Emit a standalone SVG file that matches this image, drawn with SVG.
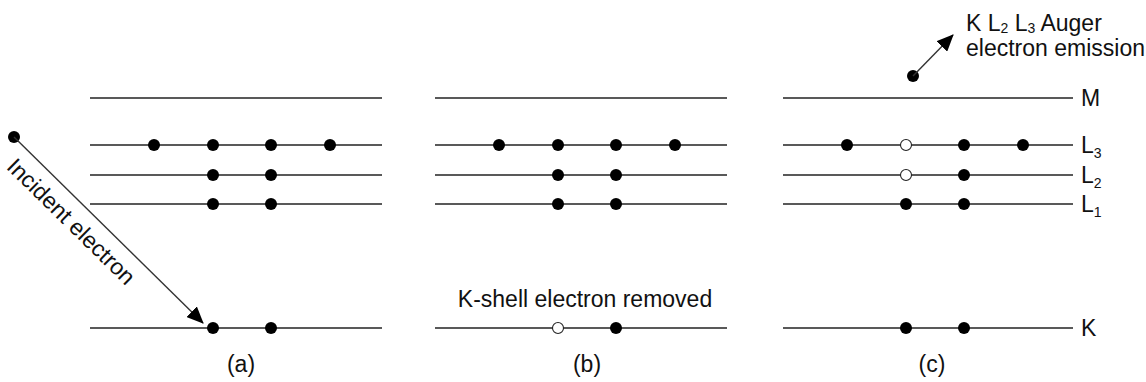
<svg xmlns="http://www.w3.org/2000/svg" width="1146" height="382" viewBox="0 0 1146 382">
  <style>
    .shell { stroke: #222; stroke-width: 1.4; fill: none; }
    .e { fill: #000; }
    .hole { fill: #fff; stroke: #222; stroke-width: 1.1; }
    .lbl { font-family: "Liberation Sans", Arial, sans-serif; font-size: 23px; fill: #111; }
    .sub { font-size: 14px; }
    .arrow { stroke: #333; stroke-width: 1.4; fill: none; }
  </style>
  <defs>
    <marker id="head" markerWidth="17" markerHeight="15" refX="16" refY="7.5" orient="auto" markerUnits="userSpaceOnUse">
      <path d="M0,0 L17,7.5 L0,15 Z" fill="#000"/>
    </marker>
  </defs>
  <rect width="1146" height="382" fill="#fff"/>

  <!-- Panel (a): atom before ionisation -->
  <g id="panel-a">
    <line class="shell" x1="90" y1="98" x2="382" y2="98"/>
    <line class="shell" x1="90" y1="145" x2="382" y2="145"/>
    <line class="shell" x1="90" y1="175" x2="382" y2="175"/>
    <line class="shell" x1="90" y1="204" x2="382" y2="204"/>
    <line class="shell" x1="90" y1="328" x2="382" y2="328"/>
    <circle class="e" cx="154" cy="145" r="6"/>
    <circle class="e" cx="213" cy="145" r="6"/>
    <circle class="e" cx="271" cy="145" r="6"/>
    <circle class="e" cx="330" cy="145" r="6"/>
    <circle class="e" cx="213" cy="175" r="6"/>
    <circle class="e" cx="271" cy="175" r="6"/>
    <circle class="e" cx="213" cy="204" r="6"/>
    <circle class="e" cx="271" cy="204" r="6"/>
    <circle class="e" cx="213" cy="328" r="6"/>
    <circle class="e" cx="271" cy="328" r="6"/>
    <text class="lbl" x="241" y="372" text-anchor="middle">(a)</text>
  </g>

  <!-- Incident electron -->
  <g id="incident">
    <circle class="e" cx="14" cy="137" r="6"/>
    <text class="lbl" transform="translate(14,137) rotate(44.5)" x="100" y="28" text-anchor="middle">Incident electron</text>
  </g>

  <!-- Panel (b): K-shell vacancy -->
  <g id="panel-b">
    <line class="shell" x1="435" y1="98" x2="727" y2="98"/>
    <line class="shell" x1="435" y1="145" x2="727" y2="145"/>
    <line class="shell" x1="435" y1="175" x2="727" y2="175"/>
    <line class="shell" x1="435" y1="204" x2="727" y2="204"/>
    <line class="shell" x1="435" y1="328" x2="727" y2="328"/>
    <circle class="e" cx="499" cy="145" r="6"/>
    <circle class="e" cx="558" cy="145" r="6"/>
    <circle class="e" cx="616" cy="145" r="6"/>
    <circle class="e" cx="675" cy="145" r="6"/>
    <circle class="e" cx="558" cy="175" r="6"/>
    <circle class="e" cx="616" cy="175" r="6"/>
    <circle class="e" cx="558" cy="204" r="6"/>
    <circle class="e" cx="616" cy="204" r="6"/>
    <circle class="hole" cx="558" cy="328" r="5.5"/>
    <circle class="e" cx="616" cy="328" r="6"/>
    <text class="lbl" x="585" y="307" text-anchor="middle">K-shell electron removed</text>
    <text class="lbl" x="587" y="372" text-anchor="middle">(b)</text>
  </g>

  <!-- Panel (c): Auger relaxation -->
  <g id="panel-c">
    <line class="shell" x1="783" y1="98" x2="1073" y2="98"/>
    <line class="shell" x1="783" y1="145" x2="1073" y2="145"/>
    <line class="shell" x1="783" y1="175" x2="1073" y2="175"/>
    <line class="shell" x1="783" y1="204" x2="1073" y2="204"/>
    <line class="shell" x1="783" y1="328" x2="1073" y2="328"/>
    <circle class="e" cx="847" cy="145" r="6"/>
    <circle class="hole" cx="906" cy="145" r="5.5"/>
    <circle class="e" cx="964" cy="145" r="6"/>
    <circle class="e" cx="1023" cy="145" r="6"/>
    <circle class="hole" cx="906" cy="175" r="5.5"/>
    <circle class="e" cx="964" cy="175" r="6"/>
    <circle class="e" cx="906" cy="204" r="6"/>
    <circle class="e" cx="964" cy="204" r="6"/>
    <circle class="e" cx="906" cy="328" r="6"/>
    <circle class="e" cx="964" cy="328" r="6"/>
    <text class="lbl" x="932" y="372" text-anchor="middle">(c)</text>
  </g>

  <!-- Shell labels -->
  <g id="shell-labels">
    <text class="lbl" x="1081" y="106">M</text>
    <text class="lbl" x="1081" y="153">L<tspan class="sub" dy="5">3</tspan></text>
    <text class="lbl" x="1081" y="183">L<tspan class="sub" dy="5">2</tspan></text>
    <text class="lbl" x="1081" y="212">L<tspan class="sub" dy="5">1</tspan></text>
    <text class="lbl" x="1081" y="336">K</text>
  </g>

  <!-- Emitted Auger electron -->
  <g id="auger">
    <circle class="e" cx="913" cy="76" r="6"/>
    <text class="lbl" x="966" y="31">K L<tspan class="sub" dy="2">2</tspan><tspan dy="-2"> L</tspan><tspan class="sub" dy="2">3</tspan><tspan dy="-2"> Auger</tspan></text>
    <text class="lbl" x="966" y="56">electron emission</text>
  </g>

  <!-- Connectors -->
  <g id="connectors">
    <line class="arrow" x1="14" y1="137" x2="203" y2="323" marker-end="url(#head)"/>
    <line class="arrow" x1="913" y1="76" x2="953" y2="35" marker-end="url(#head)"/>
  </g>
</svg>
